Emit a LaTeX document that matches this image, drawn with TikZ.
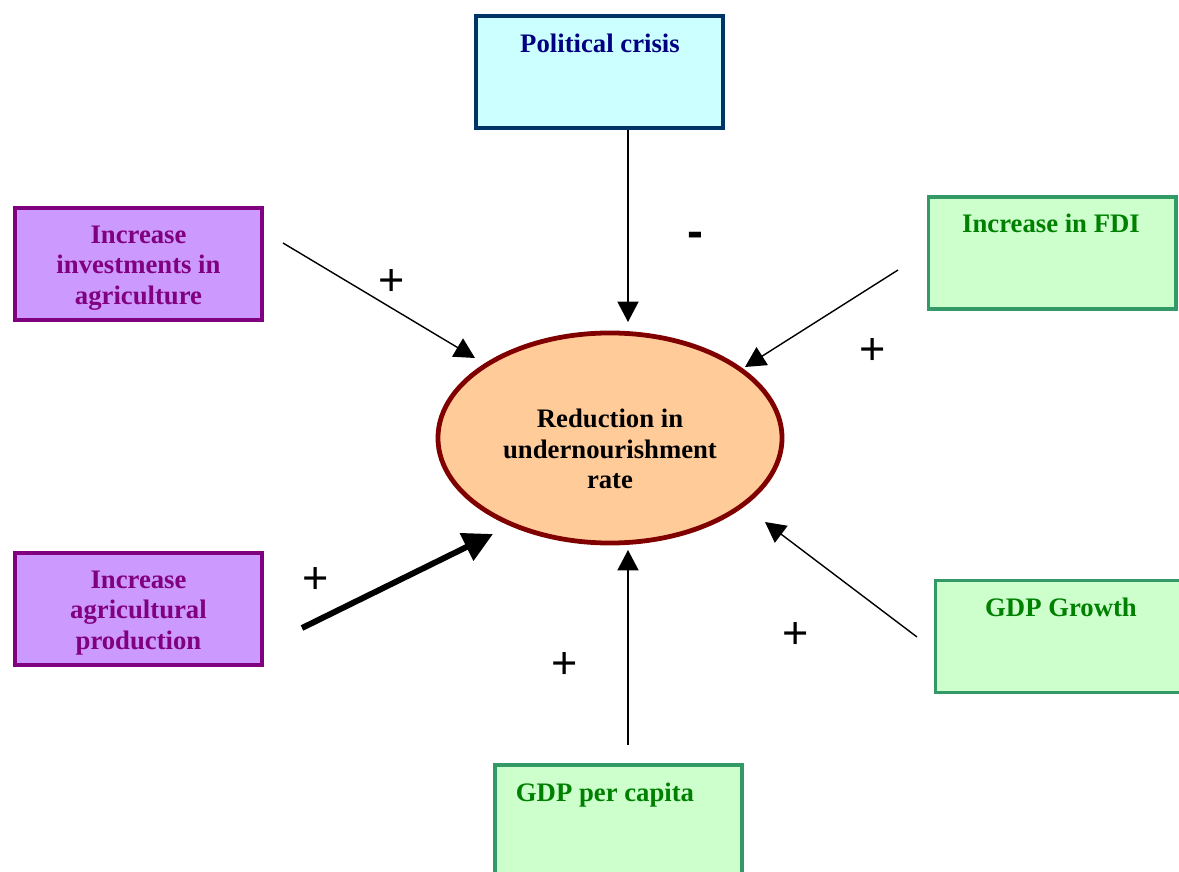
\documentclass[tikz,border=0pt]{standalone}
\usepackage{fontspec}
\setmainfont{Liberation Serif}
\newfontfamily\signfont{Liberation Sans}
\usepackage{xcolor}
\usetikzlibrary{arrows.meta,shapes.geometric}

\definecolor{polfill}{HTML}{CCFFFF}
\definecolor{polline}{HTML}{003366}
\definecolor{poltext}{HTML}{000080}
\definecolor{purfill}{HTML}{CC99FF}
\definecolor{purline}{HTML}{800080}
\definecolor{grnfill}{HTML}{CCFFCC}
\definecolor{grnline}{HTML}{339966}
\definecolor{grntext}{HTML}{008000}
\definecolor{ovalfill}{HTML}{FFCC99}
\definecolor{ovalline}{HTML}{800000}

\tikzset{
  box/.style={rectangle, line width=2.8pt, minimum width=6.175cm, minimum height=2.8cm, inner sep=0pt},
  polbox/.style={box, draw=polline, fill=polfill},
  purbox/.style={box, draw=purline, fill=purfill},
  grnbox/.style={box, draw=grnline, fill=grnfill},
  boxtext/.style={font=\fontsize{19}{21.6}\selectfont\bfseries, align=center, inner sep=0pt},
  sign/.style={font=\signfont\fontsize{32}{32}\selectfont, inner sep=0pt},
  arr/.style={line width=1pt, -{Triangle[length=14.5pt,width=15pt]}},
  bigarr/.style={line width=4.2pt, -{Triangle[length=21pt,width=21pt]}}
}

\begin{document}
\begin{tikzpicture}[x=0.025cm,y=-0.025cm]
\clip (0,0) rectangle (1179,872);

\node[polbox]  (pol)  at (599.5,72)  {};
\node[purbox]  (inv)  at (138.5,264) {};
\node[grnbox]  (fdi)  at (1052,253)  {};
\node[purbox]  (prod) at (138.5,609) {};
\node[grnbox]  (gro)  at (1059,636.5) {};
\node[grnbox]  (cap)  at (618.5,821) {};

\node[boxtext, text=poltext, anchor=base] (polT) at (600,53)   {Political crisis};
\node[boxtext, text=purline] (invT)  at (138.5,268) {Increase\\investments in\\agriculture};
\node[boxtext, text=grntext, anchor=base] (fdiT) at (1051,233)  {Increase in FDI};
\node[boxtext, text=purline] (prodT) at (138.5,613) {Increase\\agricultural\\production};
\node[boxtext, text=grntext, anchor=base] (groT) at (1061,617)  {GDP Growth};
\node[boxtext, text=grntext, anchor=base] (capT) at (605,801)   {GDP per capita};

\node[ellipse, draw=ovalline, fill=ovalfill, line width=3.4pt,
      minimum width=8.6cm, minimum height=5.25cm, inner sep=0pt] (red) at (610,438) {};
\node[boxtext] (redT) at (610,449) {Reduction in\\undernourishment\\rate};

% arrow ends
\coordinate (polS)  at (628,130);  \coordinate (polE)  at (628,322);
\coordinate (invS)  at (283,243);  \coordinate (invE)  at (475,358);
\coordinate (fdiS)  at (898,270);  \coordinate (fdiE)  at (745,367);
\coordinate (prodS) at (302,628);  \coordinate (prodE) at (493,534);
\coordinate (capS)  at (628,745);  \coordinate (capE)  at (628,550);
\coordinate (groS)  at (917,637);  \coordinate (groE)  at (765,522);

\path[arr]
  (polS) edge (polE)
  (invS) edge (invE)
  (fdiS) edge (fdiE)
  (capS) edge (capE)
  (groS) edge (groE);
\path[bigarr] (prodS) edge (prodE);

\node[sign, font=\signfont\bfseries\fontsize{34}{34}\selectfont] (mPol) at (695,240) {-};
\node[sign] (pInv)  at (392,283) {+};
\node[sign] (pFdi)  at (873,352) {+};
\node[sign] (pProd) at (316,581) {+};
\node[sign] (pCap)  at (565,666) {+};
\node[sign] (pGro)  at (796,636) {+};

\end{tikzpicture}
\end{document}
